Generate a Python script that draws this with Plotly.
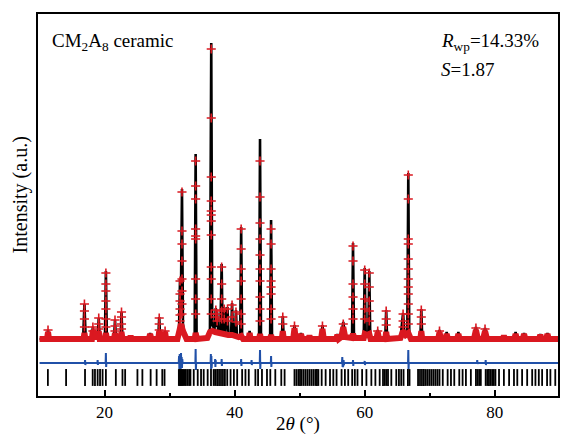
import plotly.graph_objects as go

# ---- calculated profile (black line), 2theta in degrees, intensity in a.u. ----
calc_x = [10.0,
          11.1, 11.3, 11.5,
          16.7, 16.9, 17.1,
          18.0, 18.2, 18.35,
          18.95, 19.1, 19.25,
          20.05, 20.2, 20.35,
          21.45, 21.6, 21.75,
          22.45, 22.6, 22.75,
          23.85, 24.0, 24.15,
          26.8, 27.0, 27.2,
          28.25, 28.4, 28.55,
          29.15, 29.3, 29.45,
          31.2, 31.45, 31.6, 31.72, 31.9, 32.05, 32.3, 32.6,
          33.85, 34.0, 34.15, 34.4,
          35.8, 36.2, 36.4, 36.55, 36.9, 37.1, 37.2, 37.3, 37.45, 37.8, 38.0, 38.15,
          38.4, 38.55, 38.9, 39.05, 39.45, 39.6, 39.75, 40.05, 40.2, 40.35, 40.85, 41.0, 41.15, 41.5,
          42.15, 42.3, 42.45,
          43.75, 43.9, 44.05, 45.45, 45.6, 45.75,
          47.25, 47.4, 47.55,
          49.05, 49.2, 49.35,
          50.0, 50.2, 50.4,
          51.3, 51.5, 51.7,
          53.3, 53.5, 53.7,
          55.6, 55.8, 56.0, 56.4, 56.7, 57.0,
          58.05, 58.2, 58.35,
          59.85, 60.0, 60.15, 60.55, 60.7, 60.85,
          61.8, 62.0, 62.2,
          63.15, 63.3, 63.45,
          65.5, 65.9, 66.1, 66.55, 66.7, 66.85, 67.1,
          68.55, 68.7, 68.85,
          71.3, 71.5, 71.7,
          72.4, 72.6, 72.8,
          74.2, 74.4, 74.6,
          76.8, 77.1, 77.4,
          78.2, 78.5, 78.8,
          81.2, 81.4, 81.6,
          83.0, 83.2, 83.4,
          84.3, 84.5, 84.7,
          86.8, 87.0, 87.2,
          87.9, 88.1, 88.3,
          89.72]
calc_y = [0,
          0, 9, 0,
          0, 35, 0,
          0, 12, 1,
          1, 21, 1,
          0, 68, 0,
          0, 19, 0,
          0, 27, 0,
          0, 3, 0,
          0, 6, 0,
          0, 22, 0,
          0, 8, 0,
          0, 12, 60, 30, 150, 15, 3, 0,
          0, 185, 2, 0,
          2, 10, 296, 14, 10, 31, 12, 27, 9, 6, 75, 6,
          32, 5, 32, 4, 4, 36, 4, 3, 29, 2, 1, 112, 1, 0,
          0, 8, 0,
          0, 200, 1, 1, 119, 0,
          0, 23, 0,
          0, 14, 0,
          0, 6, 0,
          0, 3, 0,
          0, 14, 0,
          0, 5, 0, 2, 17, 2,
          1, 96, 1,
          1, 71, 4, 4, 68, 1,
          0, 9, 0,
          0, 29, 0,
          1, 26, 5, 6, 166, 3, 0,
          0, 30, 0,
          0, 9, 0,
          0, 7, 0,
          0, 7, 0,
          0, 12, 0,
          0, 11, 0,
          0, 3, 0,
          0, 7, 0,
          0, 6, 0,
          0, 5, 0,
          0, 6, 0,
          0]

# ---- observed background band (dense red points along the baseline) ----
band_x = [10.0, 11.15, 11.3, 11.45, 16.75, 16.9, 17.05, 18.05, 18.2, 18.35, 18.95, 19.1, 19.25,
          20.05, 20.2, 20.35, 21.45, 21.6, 21.75, 22.45, 22.6, 22.75, 23.85, 24.0, 24.15,
          26.8, 27.0, 27.2, 28.25, 28.4, 28.55, 29.15, 29.3, 29.45,
          31.2, 31.5, 31.75, 32.05, 32.3, 32.6, 33.85, 34.0, 34.2,
          35.8, 36.2, 36.6, 37.0, 37.5, 38.0, 38.5, 39.0, 39.6, 40.2, 40.6, 41.0, 41.3,
          42.15, 42.3, 42.45, 43.75, 43.9, 44.05, 45.45, 45.6, 45.75, 47.25, 47.4, 47.55,
          49.0, 49.2, 49.4, 50.0, 50.2, 50.4, 51.3, 51.5, 51.7, 53.3, 53.5, 53.7,
          55.6, 55.8, 56.0, 56.4, 56.7, 57.0, 58.0, 58.2, 58.4, 59.85, 60.0, 60.35, 60.7, 60.9,
          61.8, 62.0, 62.2, 63.15, 63.3, 63.45, 65.5, 65.9, 66.3, 66.7, 67.1, 68.55, 68.7, 68.85,
          71.3, 71.5, 71.7, 72.4, 72.6, 72.8, 74.2, 74.4, 74.6, 76.8, 77.1, 77.4, 78.2, 78.5, 78.8,
          81.2, 81.4, 81.6, 83.0, 83.2, 83.4, 84.3, 84.5, 84.7, 86.8, 87.0, 87.2, 87.9, 88.1, 88.3,
          89.72]
band_y = [0, 0, 7, 0, 0, 6, 0, 0, 9, 2, 2, 8, 0,
          0, 6, 0, 0, 6, 0, 0, 7, 0, 0, 3, 0,
          0, 5, 0, 0, 8, 0, 0, 7, 0,
          0, 12, 15, 8, 3, 0, 0, 6, 0,
          1, 7, 8, 7, 6, 5, 4, 4, 4, 3, 2, 3, 0,
          0, 6, 0, 0, 5, 0, 0, 4, 0, 0, 8, 0,
          0, 11, 0, 0, 5, 0, 0, 3, 0, 0, 10, 0,
          0, 4, 0, 2, 12, 2, 1, 5, 1, 1, 5, 4, 5, 0,
          0, 7, 0, 0, 7, 0, 1, 8, 4, 6, 0, 0, 8, 0,
          0, 7, 0, 0, 5, 0, 0, 5, 0, 0, 9, 0, 0, 8, 0,
          0, 3, 0, 0, 5, 0, 0, 5, 0, 0, 4, 0, 0, 5, 0,
          0]

# ---- observed points on the peaks (red crosses) ----
obs_x = ([11.3] + [16.9] * 4 + [18.2] * 2 + [19.1] * 3 + [20.2] * 7 + [21.6] * 3 + [22.6] * 4
         + [28.4] * 3 + [29.3] + [31.6] * 6 + [31.9] * 8 + [34.0] * 9 + [36.4] * 12
         + [37.1] * 2 + [37.3] * 2 + [38.0] * 5 + [38.4] * 2 + [38.9] * 2 + [39.6] * 2 + [40.2] * 2
         + [41.0] * 7 + [43.9] * 10 + [45.6] * 8 + [47.4] * 2 + [49.2] + [53.5] + [56.7]
         + [58.2] * 6 + [60.0] * 5 + [60.7] * 5 + [62.0] + [63.3] * 3 + [65.9] * 3
         + [66.7] * 12 + [68.7] * 3 + [71.5] + [77.1] + [78.5])
obs_y = ([9] + [35, 28, 20, 12] + [12, 8] + [21, 15, 10] + [66, 55, 48, 38, 30, 20, 12]
         + [19, 13, 8] + [27, 22, 15, 10] + [21, 15, 9] + [8]
         + [58, 45, 38, 30, 24, 18] + [147, 108, 95, 78, 60, 48, 35, 25]
         + [178, 153, 140, 110, 103, 100, 60, 40, 25]
         + [290, 221, 162, 138, 128, 124, 118, 104, 72, 60, 40, 25]
         + [29, 22] + [25, 18] + [72, 55, 40, 28, 20] + [30, 20] + [30, 18] + [34, 22] + [27, 17]
         + [110, 90, 70, 58, 40, 25, 15] + [178, 142, 116, 100, 84, 70, 58, 42, 30, 18]
         + [110, 95, 70, 58, 52, 45, 30, 20] + [22, 15] + [13] + [13] + [15]
         + [93, 78, 55, 42, 30, 20] + [69, 55, 40, 30, 20] + [66, 52, 38, 28, 18] + [8]
         + [28, 20, 14] + [25, 18, 12]
         + [164, 140, 100, 95, 80, 70, 60, 52, 45, 35, 25, 15] + [29, 22, 15] + [8] + [11] + [10])

# ---- difference curve (blue), offset below the pattern ----
diff_x = [10.0,
          16.96, 17.0, 17.04, 17.08,
          18.9, 18.93, 18.97, 19.0,
          20.16, 20.2, 20.24, 20.28,
          31.4, 31.45, 31.5, 31.55, 31.6, 31.65, 31.7, 31.75, 31.8, 31.85, 31.9, 31.95, 32.0,
          33.96, 34.0, 34.04, 34.08,
          36.3, 36.34, 36.38, 36.42, 36.46, 36.5,
          36.96, 37.0, 37.04, 37.08, 37.12,
          37.96, 38.0, 38.04, 38.08,
          40.96, 41.0, 41.04, 41.08,
          42.56, 42.6, 42.64, 42.68,
          43.86, 43.9, 43.94, 43.98,
          45.56, 45.6, 45.64, 45.68,
          56.5, 56.55, 56.6, 56.65, 56.7, 56.75, 56.8, 56.85,
          58.16, 58.2, 58.24, 58.28,
          59.96, 60.0, 60.04, 60.08,
          66.66, 66.7, 66.74, 66.78,
          77.26, 77.3, 77.34, 77.38,
          78.56, 78.6, 78.64, 78.68,
          89.72]
diff_y = [-24,
          -24, -21, -26, -24,
          -24, -21, -26, -24,
          -24, -14, -28, -24,
          -24, -17, -30, -15, -29, -16, -30, -14, -28, -18, -29, -20, -24,
          -24, -10, -31, -24,
          -24, -15, -30, -17, -29, -24,
          -24, -20, -28, -21, -24,
          -24, -20, -27, -24,
          -24, -20, -27, -24,
          -24, -21, -26, -24,
          -24, -11, -30, -24,
          -24, -17, -28, -24,
          -24, -18, -28, -19, -27, -21, -26, -24,
          -24, -21, -27, -24,
          -24, -22, -26, -24,
          -24, -11, -30, -24,
          -24, -21, -25, -24,
          -24, -21, -26, -24,
          -24]

# ---- Bragg reflection positions ----
bragg = [11.28, 14.08, 16.99, 18.17, 18.52, 18.93, 19.3, 19.69, 20.2, 21.73, 22.75, 23.16,
         25.05, 25.81, 27.08, 28.0, 28.87, 29.22,
         31.42, 31.55, 31.68, 31.8, 31.95, 32.1, 32.3, 32.5, 32.75, 33.0, 33.2,
         33.71, 34.32, 34.83, 35.24, 35.85, 36.36, 36.77, 37.0, 37.3, 37.6, 37.9, 38.2, 38.5,
         38.86, 39.37, 39.88, 40.39, 41.15, 41.66, 42.17, 43.19, 43.6, 44.2, 44.97, 45.48,
         46.25, 47.17, 47.68,
         49.2, 49.5, 49.8, 50.05, 50.3, 50.6, 50.9, 51.2, 51.5, 51.8, 52.1, 52.4, 52.65, 52.87,
         53.38, 53.99, 54.66, 55.17, 55.67, 56.44, 56.95, 57.46, 58.07, 58.48, 58.89, 59.6,
         60.26, 61.02, 61.64, 62.3, 62.81, 63.07, 63.32, 63.58, 64.09, 64.85, 65.26, 65.61,
         65.97, 66.64, 66.89,
         68.2, 68.5, 68.8, 69.1, 69.4, 69.7, 70.0, 70.3, 70.6, 70.9, 71.2, 71.5,
         72.0, 72.75, 73.26, 73.77, 74.54, 75.05, 75.56, 76.32, 77.1, 77.35, 77.6, 77.85,
         78.6, 78.85, 79.1, 79.35, 79.6, 79.85, 80.1, 80.65, 81.4, 82.2, 82.95, 83.46,
         84.2, 84.98, 85.75, 86.25, 86.77, 87.28, 88.04, 88.55, 89.3]
bragg_level = -38.5

x_ticks = [20, 40, 60, 80]

RED = "rgb(218,24,32)"
BLUE = "rgb(32,80,168)"
FONT = "Liberation Serif"

fig = go.Figure()
fig.add_trace(go.Scatter(x=calc_x, y=calc_y, mode="lines",
                         line=dict(color="black", width=2.6), hoverinfo="skip"))
fig.add_trace(go.Scatter(x=band_x, y=band_y, mode="lines",
                         line=dict(color=RED, width=6), hoverinfo="skip"))
fig.add_trace(go.Scatter(x=obs_x, y=obs_y, mode="markers",
                         marker=dict(symbol="cross-thin", size=6.5,
                                     line=dict(color=RED, width=1.6)),
                         hoverinfo="skip"))
fig.add_trace(go.Scatter(x=diff_x, y=diff_y, mode="lines",
                         line=dict(color=BLUE, width=2), hoverinfo="skip"))
fig.add_trace(go.Scatter(x=bragg, y=[bragg_level] * len(bragg), mode="markers",
                         marker=dict(symbol="line-ns", size=12,
                                     line=dict(color="black", width=1.8)),
                         hoverinfo="skip"))

fig.update_layout(
    width=561, height=434,
    margin=dict(l=38, r=1, t=14, b=38),
    paper_bgcolor="white", plot_bgcolor="white",
    showlegend=False,
    font=dict(family=FONT, size=17, color="black"),
)
fig.update_xaxes(
    range=[9.76, 89.72], tickvals=x_ticks, ticktext=[str(v) for v in x_ticks],
    ticks="inside", ticklen=6, tickwidth=1.8, tickcolor="black",
    minor=dict(ticks="inside", ticklen=3, tickwidth=1.8, tickcolor="black",
               tickvals=[30, 50, 70]),
    showline=True, linewidth=2, linecolor="black", mirror=True,
    showgrid=False, zeroline=False, tickfont=dict(family=FONT, size=17),
)
fig.update_yaxes(
    range=[-57, 325], tickvals=[107], showticklabels=False,
    ticks="inside", ticklen=3, tickwidth=2, tickcolor="white",
    showline=True, linewidth=2, linecolor="black", mirror="ticks",
    showgrid=False, zeroline=False,
)

fig.add_annotation(text="CM<sub>2</sub>A<sub>8</sub> ceramic", xref="paper", yref="paper",
                   x=0.023, y=0.927, xanchor="left", yanchor="middle", showarrow=False,
                   font=dict(family=FONT, size=19))
fig.add_annotation(text="<i>R</i><sub>wp</sub>=14.33%", xref="paper", yref="paper",
                   x=0.772, y=0.927, xanchor="left", yanchor="middle", showarrow=False,
                   font=dict(family=FONT, size=19))
fig.add_annotation(text="<i>S</i>=1.87", xref="paper", yref="paper",
                   x=0.772, y=0.856, xanchor="left", yanchor="middle", showarrow=False,
                   font=dict(family=FONT, size=19))
fig.add_annotation(text="2<i>θ</i> (°)", xref="paper", yref="paper",
                   x=0.5, y=-0.072, xanchor="center", yanchor="middle", showarrow=False,
                   font=dict(family=FONT, size=19))
fig.add_annotation(text="Intensity (a.u.)", xref="paper", yref="paper",
                   x=-0.034, y=0.526, xanchor="center", yanchor="middle", showarrow=False,
                   textangle=-90, font=dict(family=FONT, size=20))

fig.write_html("out.html",
               config={"displayModeBar": False},
               post_script="document.body.style.margin='0';"
                           "document.body.style.overflow='hidden';")
